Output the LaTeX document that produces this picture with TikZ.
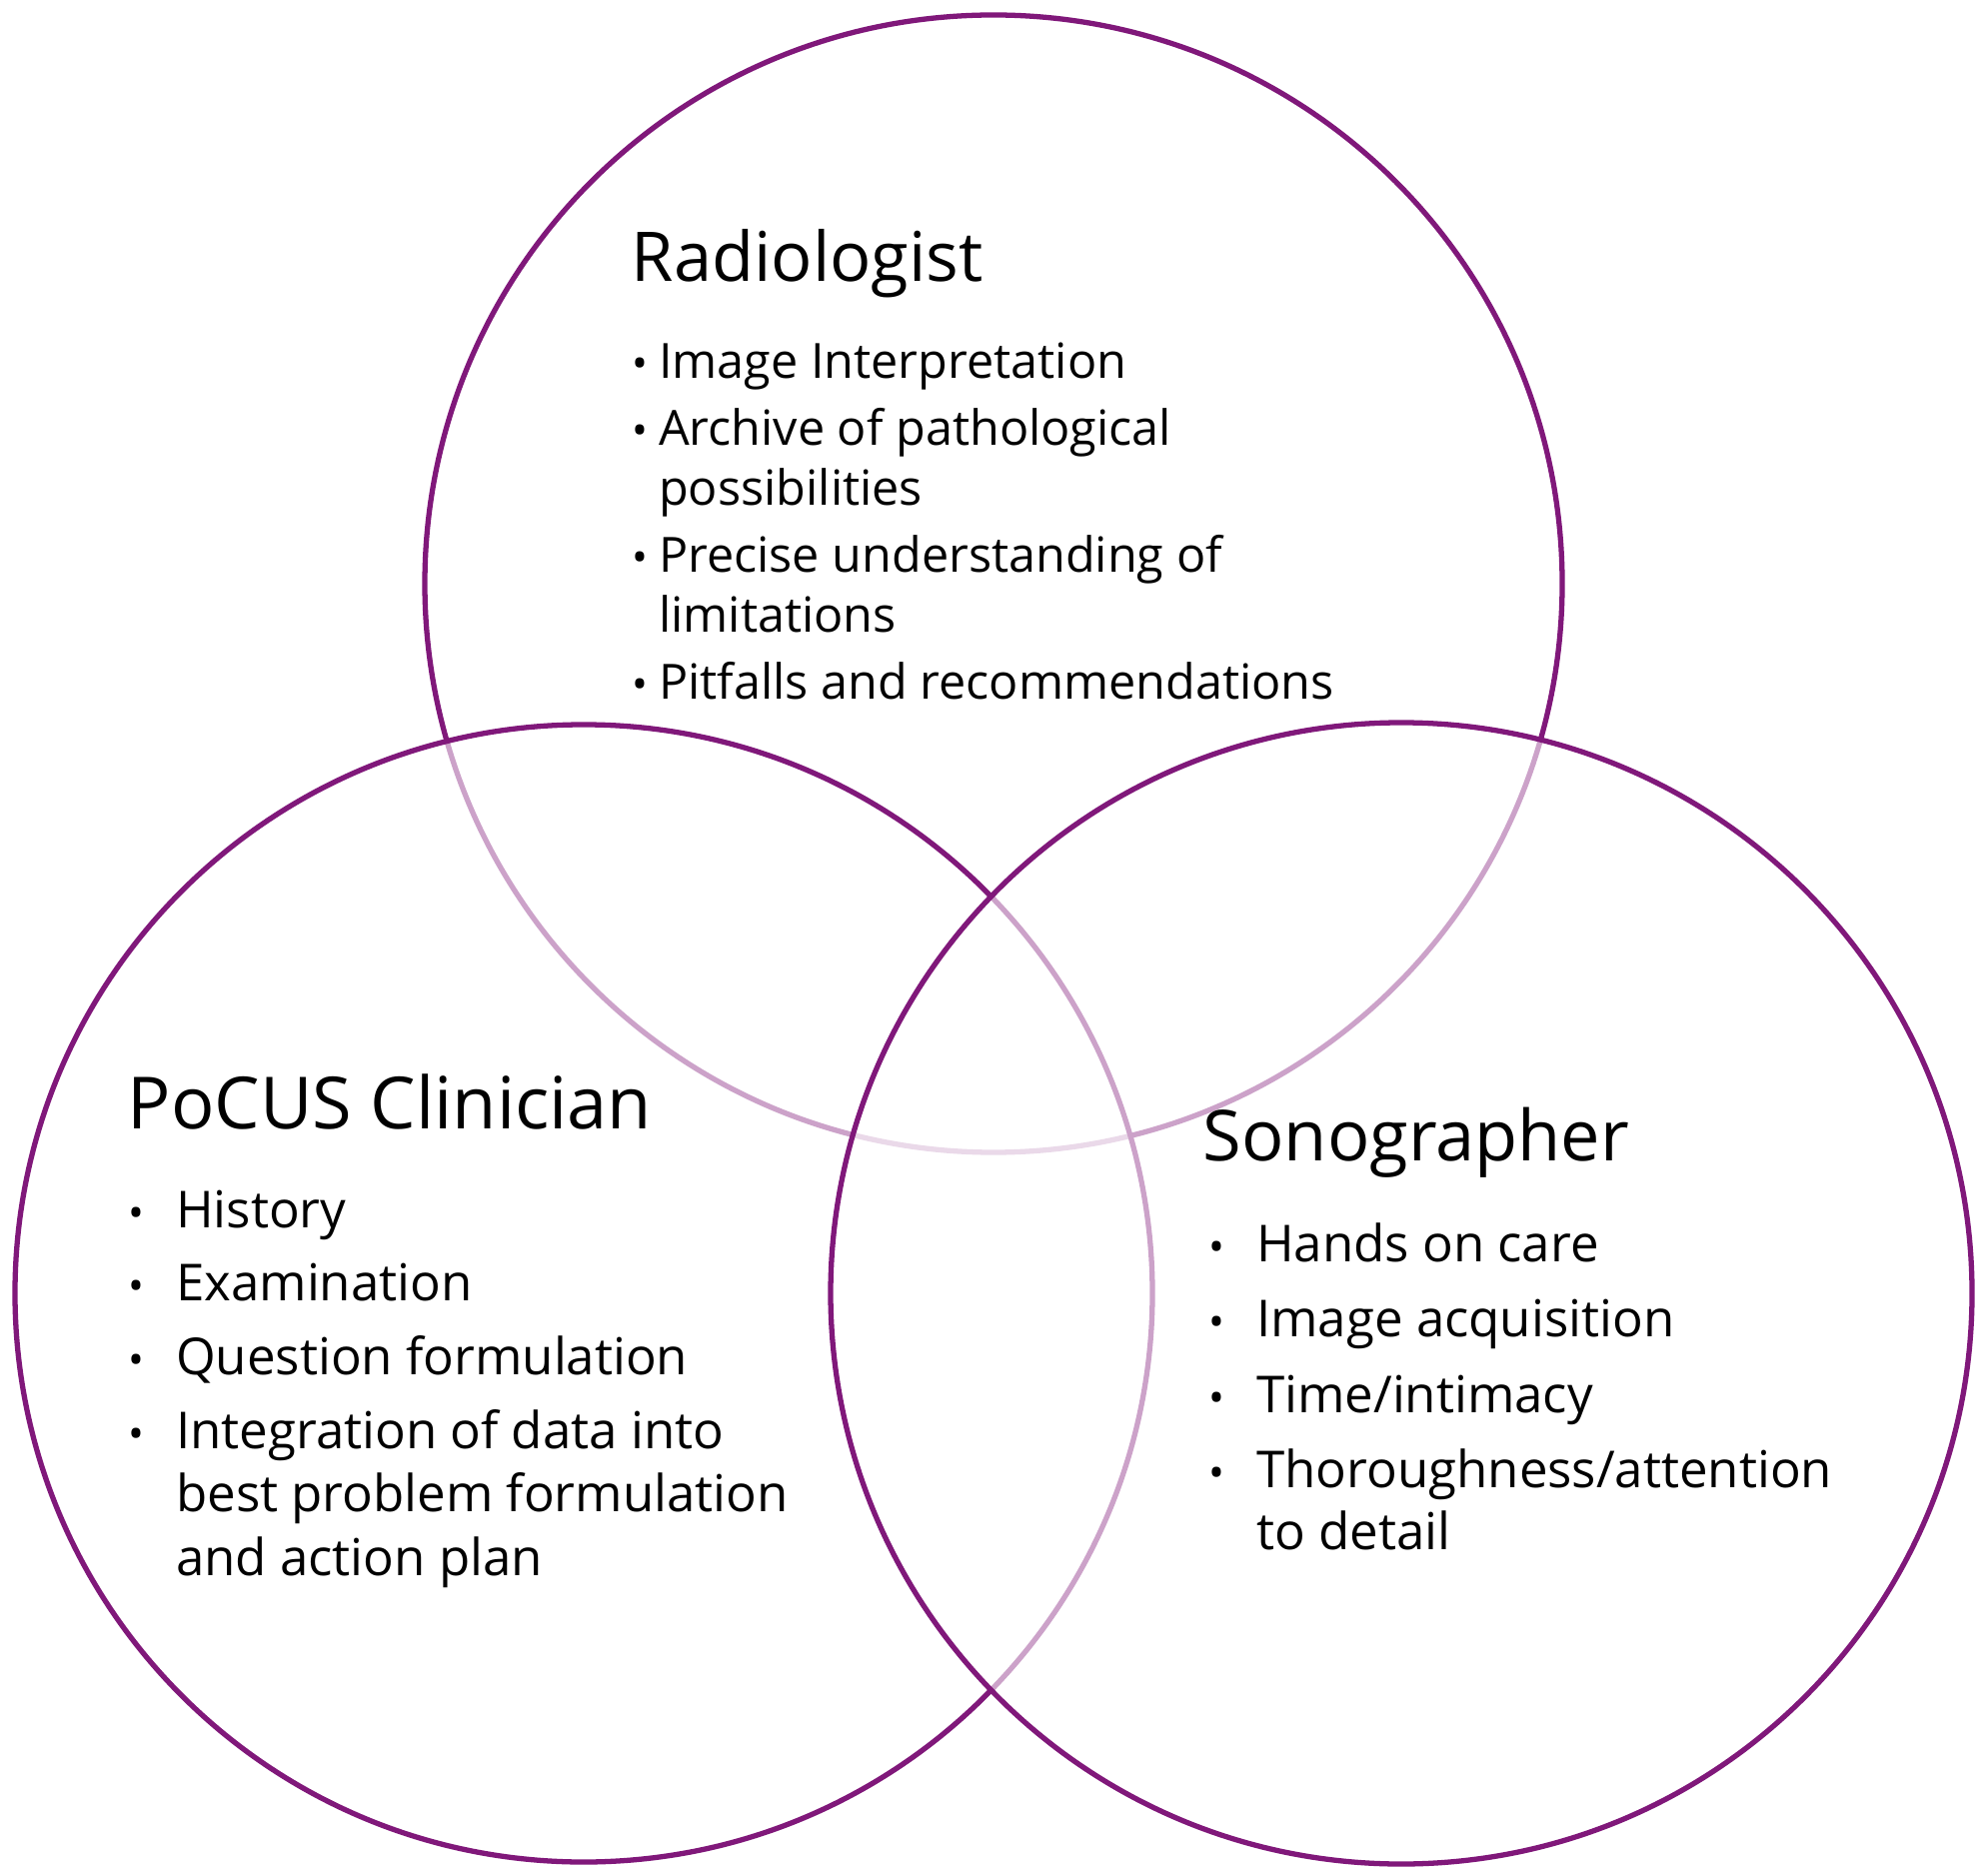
\documentclass[tikz,border=0pt]{standalone}
\usepackage{fontspec}
\setmainfont{Open Sans}
\definecolor{vpurple}{RGB}{128,24,122}
\newcommand{\bul}{{\large\textbullet}}
\begin{document}
\begin{tikzpicture}[x=0.01cm,y=-0.01cm,
  ring/.style={draw=vpurple,line width=1.5pt,fill=white,fill opacity=0.6},
  ttl/.style={anchor=base west,inner sep=0pt,font=\fontsize{20}{24}\selectfont},
  lst/.style={anchor=base west,inner sep=0pt}]
\useasboundingbox (0,0) rectangle (1986,1877);
\fill[white] (0,0) rectangle (1986,1877);
\draw[ring] (994,584) circle (569);
\draw[ring] (584,1294) circle (569);
\draw[ring] (1402,1294) circle (571);
\node[ttl] (rt) at (631,282) {\fontsize{19.5}{24}\selectfont Radiologist};
\node[lst] (rl) at (632,379) {\fontsize{13.8}{17}\selectfont\begin{tabular}[t]{@{}l@{\hspace{3pt}}l@{}}
\bul & Image Interpretation\\[2pt]
\bul & Archive of pathological\\
 & possibilities\\[2pt]
\bul & Precise understanding of\\
 & limitations\\[2pt]
\bul & Pitfalls and recommendations
\end{tabular}};
\node[ttl] (pt) at (127,1129) {\fontsize{20.5}{24}\selectfont PoCUS Clinician};
\node[lst] (pl) at (128,1228) {\fontsize{14.5}{18}\selectfont\begin{tabular}[t]{@{}l@{\hspace{9pt}}l@{}}
\bul & History\\[3pt]
\bul & Examination\\[3pt]
\bul & Question formulation\\[3pt]
\bul & Integration of data into\\
 & best problem formulation\\
 & and action plan
\end{tabular}};
\node[ttl] (st) at (1203,1161) {Sonographer};
\node[lst] (sl) at (1209,1262) {\fontsize{14.5}{17.5}\selectfont\begin{tabular}[t]{@{}l@{\hspace{9pt}}l@{}}
\bul & Hands on care\\[4pt]
\bul & Image acquisition\\[4pt]
\bul & Time/intimacy\\[4pt]
\bul & Thoroughness/attention\\
 & to detail
\end{tabular}};
\end{tikzpicture}
\end{document}
